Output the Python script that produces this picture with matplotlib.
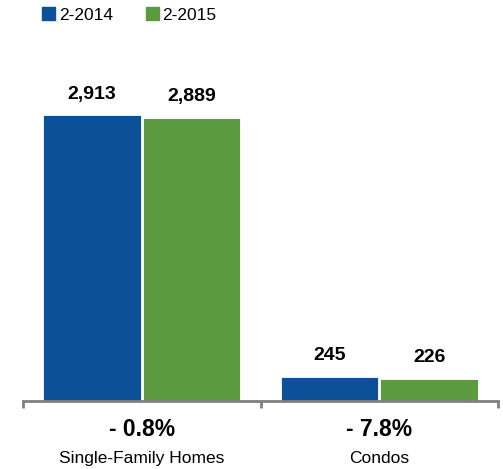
import numpy as np
import matplotlib.pyplot as plt
from matplotlib.patches import Patch

plt.rcParams['font.family'] = ['Liberation Sans', 'DejaVu Sans']

categories = ['Single-Family Homes', 'Condos']
series_names = ['2-2014', '2-2015']
values_2014 = [2913, 245]
values_2015 = [2889, 226]
changes = ['- 0.8%', '- 7.8%']

blue = '#0B5098'
green = '#5B9A3E'
gray = '#808080'

fig = plt.figure(figsize=(5.03, 4.69), dpi=100)
ax = fig.add_axes([23 / 503, 68 / 469, 475 / 503, 361 / 469])

x = np.arange(len(categories)) + 0.5
w = 0.41
off = 0.21
b1 = ax.bar(x - off, values_2014, w, color=blue, edgecolor='white', lw=0.6)
b2 = ax.bar(x + off, values_2015, w, color=green, edgecolor='white', lw=0.6)

for bars, vals in ((b1, values_2014), (b2, values_2015)):
    for rect, v in zip(bars, vals):
        ax.annotate(f'{v:,}', xy=(rect.get_x() + rect.get_width() / 2, v),
                    xytext=(0, 12), textcoords='offset points',
                    ha='center', va='baseline', fontsize=14, fontweight='bold')

for xi, ch, cat in zip(x, changes, categories):
    ax.annotate(ch, xy=(xi, 0), xycoords=('data', 'axes fraction'),
                xytext=(0, -25), textcoords='offset points',
                ha='center', va='baseline', fontsize=16.5, fontweight='bold')
    ax.annotate(cat, xy=(xi, 0), xycoords=('data', 'axes fraction'),
                xytext=(0, -44.5), textcoords='offset points',
                ha='center', va='baseline', fontsize=12.5)

ax.set_xlim(0, 2)
ax.set_ylim(0, 3680)
for s in ['top', 'right', 'left']:
    ax.spines[s].set_visible(False)
ax.spines['bottom'].set_color(gray)
ax.spines['bottom'].set_linewidth(2)
ax.set_yticks([])
ax.set_xticks([0, 1, 2])
ax.set_xticklabels([])
ax.tick_params(axis='x', direction='out', length=5, width=2, color=gray)

handles = [Patch(color=blue), Patch(color=green)]
fig.legend(handles, series_names, loc='upper left', bbox_to_anchor=(39 / 503, 1 - 4 / 469),
           ncol=2, frameon=False, fontsize=12.5, handlelength=0.75,
           handleheight=0.75, handletextpad=0.2, columnspacing=1.9,
           borderaxespad=0.0, borderpad=0.2)

fig.savefig('out.png', dpi=100)
